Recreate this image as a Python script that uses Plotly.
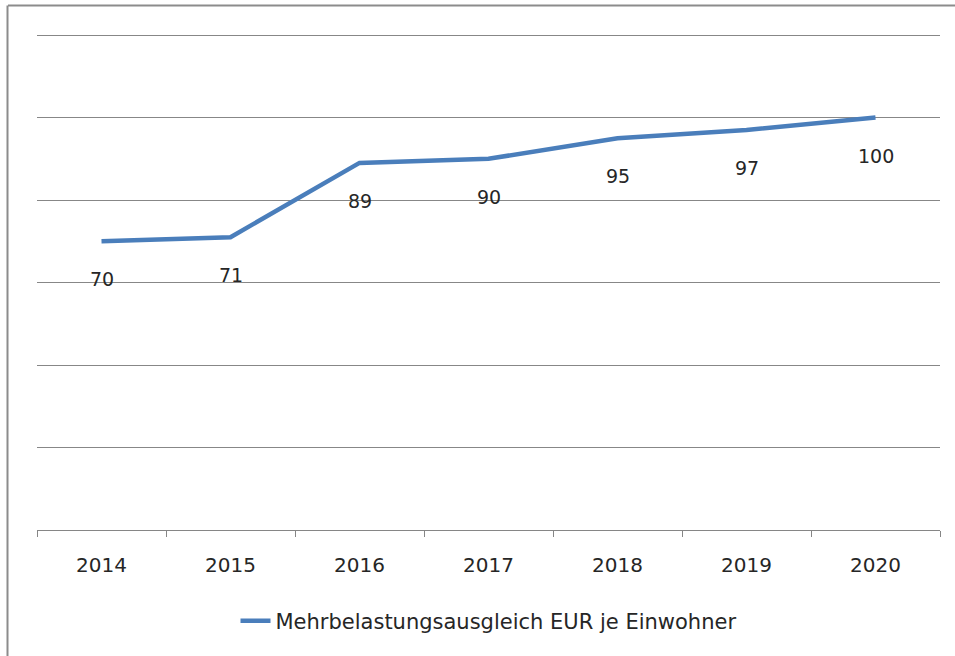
import plotly.graph_objects as go

years = ["2014", "2015", "2016", "2017", "2018", "2019", "2020"]
values = [70, 71, 89, 90, 95, 97, 100]
series_name = "Mehrbelastungsausgleich EUR je Einwohner"

W, H = 955, 656
L, R, T, B = 37, 15, 33, 126
PW, PH = W - L - R, H - T - B
FONT = "DejaVu Sans"

fig = go.Figure()
fig.add_trace(go.Scatter(
    x=years, y=values, mode="lines", name=series_name,
    line=dict(color="#4A7EBB", width=4.5),
))

for i, v in enumerate(values):
    fig.add_annotation(x=i, y=v, xref="x", yref="y", text=str(v), showarrow=False,
                       yshift=-38, xshift=0,
                       font=dict(size=19, color="#262626", family=FONT))

# outer chart border (left/top visible)
fig.add_shape(type="line", xref="paper", yref="paper",
              x0=(8 - L) / PW, x1=(W + 5 - L) / PW,
              y0=1 + (T - 5.5) / PH, y1=1 + (T - 5.5) / PH,
              line=dict(color="#8c8c8c", width=2))
fig.add_shape(type="line", xref="paper", yref="paper",
              x0=(7.5 - L) / PW, x1=(7.5 - L) / PW,
              y0=1 + (T - 5.5) / PH, y1=-(B + 5) / PH,
              line=dict(color="#8c8c8c", width=2))

fig.update_layout(
    width=W, height=H,
    margin=dict(l=L, r=R, t=T, b=B, autoexpand=False),
    paper_bgcolor="white", plot_bgcolor="white",
    font=dict(family=FONT, size=20, color="#262626"),
    showlegend=True,
    legend=dict(orientation="h", x=0.5, xanchor="center", y=-(621 - 530) / PH,
                yanchor="middle", font=dict(size=21, family=FONT)),
    xaxis=dict(type="category", range=[-0.5, 6.5], showgrid=False, showline=True,
               linecolor="#868686", linewidth=1, ticks="outside", tickson="boundaries",
               ticklen=6, tickcolor="#868686", tickfont=dict(size=20, family=FONT),
               zeroline=False, tickangle=0, ticklabelstandoff=17),
    yaxis=dict(range=[0, 120.5], tickvals=[20, 40, 60, 80, 100, 120], showgrid=True,
               gridcolor="#878787", gridwidth=1, showticklabels=False, zeroline=False,
               ticks=""),
)

fig.write_html("out.html", config={"displayModeBar": False},
               post_script="document.body.style.margin='0';")
